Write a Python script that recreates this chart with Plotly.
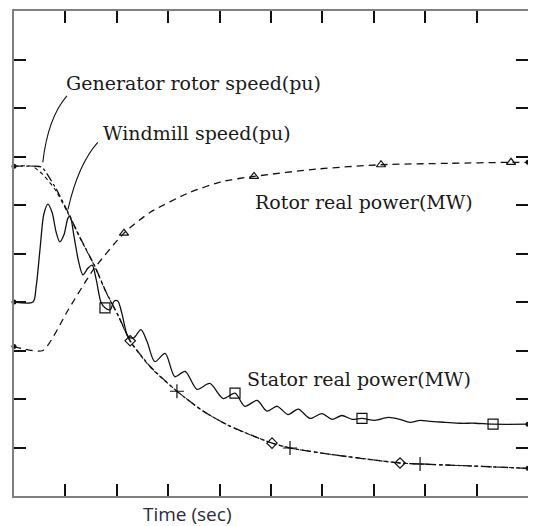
import plotly.graph_objects as go

# ---------------- data (time in s, values in arbitrary plot units) ----------------
stator_t = [0, 0.37, 0.43, 0.51, 0.58, 0.66, 0.74, 0.82, 0.89, 0.97,
            1.05, 1.09, 1.17, 1.25, 1.34, 1.44, 1.52, 1.60, 1.69, 1.77,
            1.87, 1.95, 2.02, 2.10, 2.22, 2.33, 2.47, 2.59, 2.74, 2.94,
            3.13, 3.33, 3.56, 3.81, 4.07, 4.30, 4.49, 4.73, 4.92, 5.12,
            5.33, 5.53, 5.76, 5.99, 6.19, 6.38, 6.58, 6.77, 7.02, 7.28,
            7.51, 7.70, 7.90, 8.09, 8.39, 8.68, 8.97, 9.32, 10.0]
stator_p = [4.00, 4.00, 4.31, 5.13, 5.81, 6.02, 5.85, 5.44, 5.24, 5.38,
            5.73, 5.77, 5.34, 4.87, 4.56, 4.70, 4.76, 4.46, 4.00, 3.88,
            3.84, 4.02, 4.02, 3.76, 3.29, 3.26, 3.43, 3.18, 2.77, 2.94,
            2.46, 2.57, 2.20, 2.32, 2.01, 2.12, 1.85, 1.97, 1.75, 1.85,
            1.68, 1.79, 1.60, 1.70, 1.58, 1.66, 1.58, 1.60, 1.56, 1.62,
            1.58, 1.52, 1.56, 1.54, 1.52, 1.50, 1.50, 1.48, 1.48]
stator_mark_t = [1.77, 4.30, 6.77, 9.32]
stator_mark_p = [3.88, 2.12, 1.60, 1.48]

rotor_t = [0, 0.56, 1.05, 1.54, 2.14, 2.65, 3.42, 4.07, 4.67, 5.88, 7.14, 8.48, 9.67, 10.0]
rotor_p = [3.08, 3.00, 3.83, 4.66, 5.42, 5.85, 6.26, 6.49, 6.59, 6.74, 6.83, 6.86, 6.88, 6.88]
rotor_mark_t = [2.14, 4.67, 7.14, 9.67]
rotor_mark_p = [5.42, 6.59, 6.83, 6.88]

gen_t = [0, 0.41, 0.54, 0.80, 1.05, 1.28, 1.58, 1.79, 2.02, 2.26, 2.65,
         3.17, 3.68, 4.20, 5.02, 5.37, 6.15, 7.51, 7.90, 8.87, 10.0]
gen_w = [6.80, 6.80, 6.78, 6.37, 5.85, 5.34, 4.72, 4.21, 3.74, 3.20, 2.67,
         2.16, 1.75, 1.44, 1.09, 0.99, 0.86, 0.68, 0.66, 0.62, 0.57]
gen_mark_t = [2.26, 5.02, 7.51]
gen_mark_w = [3.20, 1.09, 0.68]

mill_t = [0, 0.35, 0.55, 0.80, 1.05, 1.28, 1.58, 1.79, 2.02, 2.26, 2.65,
          3.17, 3.68, 4.20, 5.02, 5.37, 6.15, 7.51, 7.90, 8.87, 10.0]
mill_w = [6.80, 6.80, 6.64, 6.32, 5.83, 5.33, 4.71, 4.20, 3.73, 3.19, 2.66,
          2.16, 1.75, 1.44, 1.09, 0.99, 0.86, 0.68, 0.66, 0.62, 0.57]
mill_mark_t = [3.17, 5.37, 7.90]
mill_mark_w = [2.16, 0.99, 0.66]

tick_vals = list(range(0, 11))

labels = ["Generator rotor speed(pu)", "Windmill speed(pu)",
          "Rotor real power(MW)", "Stator real power(MW)"]
label_t = [0.97, 1.69, 4.65, 4.49]
label_v = [8.52, 7.49, 6.06, 2.42]

# ---------------- figure ----------------
fig = go.Figure()
black = "#111111"

fig.add_trace(go.Scatter(x=stator_t, y=stator_p, mode="lines",
                         line=dict(color=black, width=1.3, shape="spline", smoothing=0.8)))
fig.add_trace(go.Scatter(x=stator_mark_t, y=stator_mark_p, mode="markers",
                         marker=dict(symbol="square-open", size=10, color=black, line=dict(width=1.2))))

fig.add_trace(go.Scatter(x=rotor_t, y=rotor_p, mode="lines",
                         line=dict(color=black, width=1.3, dash="7px,5px", shape="spline", smoothing=0.6)))
fig.add_trace(go.Scatter(x=rotor_mark_t, y=rotor_mark_p, mode="markers",
                         marker=dict(symbol="triangle-up-open", size=8, color=black, line=dict(width=1.2))))

fig.add_trace(go.Scatter(x=gen_t, y=gen_w, mode="lines",
                         line=dict(color=black, width=1.3, dash="dashdot", shape="spline", smoothing=0.6)))
fig.add_trace(go.Scatter(x=mill_t, y=mill_w, mode="lines",
                         line=dict(color=black, width=1.1, dash="4px,3px", shape="spline", smoothing=0.6)))
fig.add_trace(go.Scatter(x=gen_mark_t, y=gen_mark_w, mode="markers",
                         marker=dict(symbol="diamond-open", size=8, color=black, line=dict(width=1.2))))
fig.add_trace(go.Scatter(x=mill_mark_t, y=mill_mark_w, mode="markers",
                         marker=dict(symbol="cross-thin-open", size=10, color=black, line=dict(width=1.2, color=black))))

# end point dots
fig.add_trace(go.Scatter(x=[stator_t[0], stator_t[-1], rotor_t[0], rotor_t[-1], gen_t[0], gen_t[-1]],
                         y=[stator_p[0], stator_p[-1], rotor_p[0], rotor_p[-1], gen_w[0], gen_w[-1]],
                         mode="markers", marker=dict(size=5, color=black), cliponaxis=False))

for txt, t, v in zip(labels, label_t, label_v):
    fig.add_annotation(x=t, y=v, text=txt, showarrow=False, xanchor="left", yanchor="middle",
                       font=dict(family="DejaVu Serif", size=19, color="#1a1a1a"))

# curved leader lines
fig.add_shape(type="path", xref="x", yref="y", path="M 1.03,8.25 Q 0.66,7.80 0.56,6.88",
              line=dict(color=black, width=1.1))
fig.add_shape(type="path", xref="x", yref="y", path="M 1.63,7.29 Q 1.25,6.84 1.05,5.91",
              line=dict(color=black, width=1.1))

fig.add_annotation(xref="paper", yref="paper", x=(187 - 14) / 514, y=0.0, yshift=-18,
                   text="Time (sec)", showarrow=False, xanchor="center", yanchor="middle",
                   font=dict(family="Open Sans", size=19, color="#2b2b3b"))

axis_common = dict(showgrid=False, zeroline=False, showticklabels=False,
                   ticks="inside", ticklen=12, tickwidth=1.5, tickcolor=black,
                   showline=True, linecolor="#808080", linewidth=2, mirror="ticks",
                   tickvals=tick_vals)
fig.update_xaxes(range=[0, 10], **axis_common)
fig.update_yaxes(range=[0, 10], **axis_common)

# the page body adds an 8px offset, so the figure is sized to fit the window
fig.update_layout(width=528, height=518, margin=dict(l=6, r=8, t=1, b=30),
                  paper_bgcolor="white", plot_bgcolor="white", showlegend=False)

fig.write_html("out.html")
